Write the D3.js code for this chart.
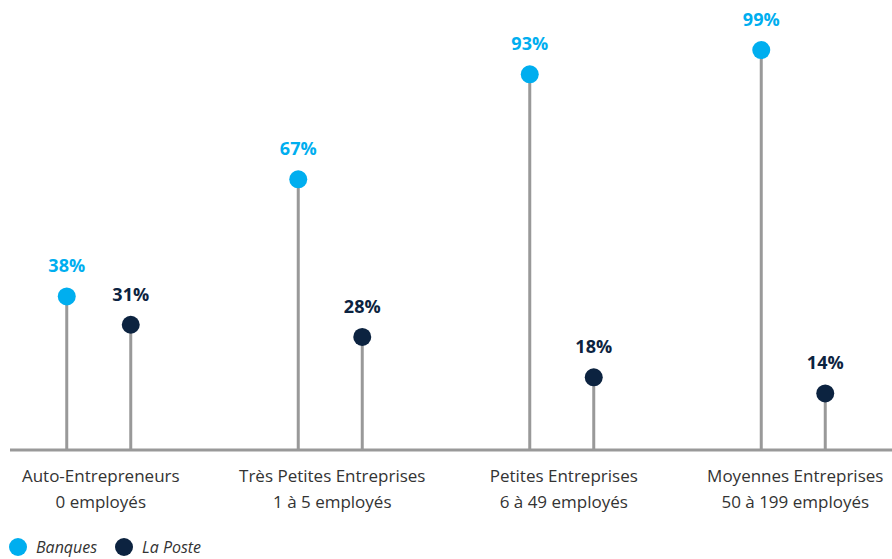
<!DOCTYPE html>
<html>
<head>
<meta charset="utf-8">
<script src="https://cdn.jsdelivr.net/npm/d3@7"></script>
<style>
  html, body { margin: 0; padding: 0; background: #fff; }
  svg { display: block; font-family: "Open Sans", "Noto Sans", sans-serif; }
</style>
</head>
<body>
<div id="chart"></div>
<script>
// Lollipop chart: Banques vs La Poste by company size

const categories = ['Auto-Entrepreneurs', 'Très Petites Entreprises', 'Petites Entreprises', 'Moyennes Entreprises'];
const subLabels = ['0  employés', '1 à 5 employés', '6 à 49 employés', '50 à 199 employés'];
const series = ['Banques', 'La Poste'];
const banques = [38, 67, 93, 99];
const laPoste = [31, 28, 18, 14];

const COLORS = { 'Banques': '#00aeef', 'La Poste': '#0c2340' };

const width = 892, height = 559;
const baseY = 450;

const svg = d3.select('#chart').append('svg')
  .attr('width', width)
  .attr('height', height);

const x = d3.scaleBand()
  .domain(categories)
  .range([-17, 909]);

// offset of each series inside its group
const xSub = d3.scalePoint()
  .domain(series)
  .range([-32, 32]);

const y = d3.scaleLinear()
  .domain([0, 100])
  .range([baseY, 46]);

const rows = [];
categories.forEach((c, i) => {
  rows.push({ cat: c, series: 'Banques', value: banques[i] });
  rows.push({ cat: c, series: 'La Poste', value: laPoste[i] });
});

const cx = d => x(d.cat) + x.bandwidth() / 2 + xSub(d.series);

// Baseline
svg.append('line')
  .attr('x1', 10).attr('x2', width)
  .attr('y1', baseY).attr('y2', baseY)
  .attr('stroke', '#999').attr('stroke-width', 3);

// Stems
svg.selectAll('.stem')
  .data(rows)
  .join('line')
  .attr('class', 'stem')
  .attr('x1', cx).attr('x2', cx)
  .attr('y1', baseY).attr('y2', d => y(d.value))
  .attr('stroke', '#999')
  .attr('stroke-width', 3);

// Dots
svg.selectAll('.dot')
  .data(rows)
  .join('circle')
  .attr('class', 'dot')
  .attr('cx', cx)
  .attr('cy', d => y(d.value))
  .attr('r', 9)
  .attr('fill', d => COLORS[d.series]);

// Value labels
svg.selectAll('.val')
  .data(rows)
  .join('text')
  .attr('class', 'val')
  .attr('x', cx)
  .attr('y', d => y(d.value) - 24)
  .attr('text-anchor', 'middle')
  .attr('font-size', 18)
  .attr('font-weight', 700)
  .attr('fill', d => COLORS[d.series])
  .text(d => d.value + '%');

// Category labels
const catG = svg.selectAll('.cat')
  .data(categories)
  .join('g')
  .attr('class', 'cat')
  .attr('transform', d => `translate(${x(d) + x.bandwidth() / 2 + 2},0)`);

catG.append('text')
  .attr('y', 482)
  .attr('text-anchor', 'middle')
  .attr('font-size', 17)
  .attr('fill', '#333')
  .text(d => d);

catG.append('text')
  .attr('y', 508)
  .attr('text-anchor', 'middle')
  .attr('font-size', 17)
  .attr('fill', '#333')
  .text((d, i) => subLabels[i]);

// Legend
const legendX = [18, 124];
const legend = svg.selectAll('.legend')
  .data(series)
  .join('g')
  .attr('class', 'legend')
  .attr('transform', (d, i) => `translate(${legendX[i]},547)`);

legend.append('circle')
  .attr('r', 9)
  .attr('fill', d => COLORS[d]);

legend.append('text')
  .attr('x', 18)
  .attr('y', 6)
  .attr('font-size', 16)
  .attr('font-style', 'italic')
  .attr('fill', '#333')
  .text(d => d);
</script>
</body>
</html>
